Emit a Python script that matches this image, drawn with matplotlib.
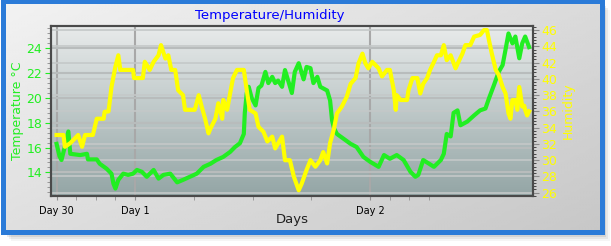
import numpy as np
import matplotlib.pyplot as plt
from matplotlib.patches import Rectangle
from matplotlib.ticker import FixedLocator, MultipleLocator

# hours relative to the start of Day 1
hours_t = [-8.0, -7.7, -7.5, -7.15, -6.8, -6.6, -5.6, -4.9, -4.8, -3.9, -3.6, -2.9,
           -2.4, -2.2, -2.0, -1.7, -1.2, -0.7, -0.2, 0.2, 0.7, 1.2, 1.9, 2.4, 2.9,
           3.6, 4.3, 4.9, 5.6, 6.3, 7.0, 7.7, 8.3, 9.0, 9.7, 10.2, 10.7, 11.1, 11.2,
           11.4, 11.6, 11.9, 12.3, 12.6, 12.9, 13.3, 13.6, 14.0, 14.3, 14.6, 15.0,
           15.3, 15.7, 16.0, 16.3, 16.7, 17.2, 17.5, 17.9, 18.2, 18.6, 18.9, 19.6,
           19.9, 20.1, 20.3, 20.6, 21.3, 22.0, 22.6, 23.3, 24.0, 24.85, 25.4, 26.0,
           26.7, 27.4, 28.1, 28.6, 28.9, 29.4, 30.0, 30.5, 31.2, 31.5, 31.8, 32.2,
           32.5, 32.9, 33.2, 33.9, 34.6, 35.2, 35.75, 36.1, 36.6, 37.1, 37.5, 37.8,
           38.1, 38.5, 38.8, 39.2, 39.5, 39.8, 40.2]
temperature = [16.3, 15.3, 15.0, 16.1, 17.3, 15.5, 15.4, 15.5, 15.05, 15.05, 14.7, 14.3,
               13.9, 13.1, 12.7, 13.4, 13.9, 13.8, 13.9, 14.2, 14.05, 13.65, 14.2, 13.5, 13.8,
               13.9, 13.2, 13.4, 13.65, 13.9, 14.45, 14.7, 15.0, 15.25, 15.65, 16.05, 16.35, 17.1, 18.8,
               20.4, 20.9, 20.0, 19.4, 20.8, 21.0, 22.1, 21.2, 21.7, 21.2, 21.4, 20.9,
               22.25, 21.2, 20.4, 22.1, 22.8, 21.5, 22.5, 22.4, 21.2, 21.7, 20.9, 20.6,
               19.8, 18.2, 17.55, 17.1, 16.7, 16.3, 16.05, 15.25, 14.85, 14.45, 15.4, 15.1,
               15.4, 15.0, 14.05, 13.65, 13.8, 15.0, 14.7, 14.45, 15.0, 15.5, 17.1, 16.9,
               18.8, 19.0, 17.8, 18.1, 18.6, 19.0, 19.15, 19.95, 21.0, 22.1, 22.65, 23.9,
               25.2, 24.4, 24.95, 23.2, 24.4, 24.95, 24.1]

hours_h = [-8.0, -7.3, -7.15, -6.6, -5.8, -5.4, -5.1, -4.3, -3.9, -3.2, -3.1, -2.7,
           -2.4, -2.0, -1.7, -1.5, -0.2, -0.1, 0.8, 1.0, 1.5, 1.9, 2.4, 2.65, 3.1,
           3.4, 3.7, 4.1, 4.4, 4.9, 5.1, 6.1, 6.5, 6.8, 7.15, 7.5, 7.7, 8.2, 8.5,
           8.9, 9.0, 9.4, 9.7, 10.0, 10.4, 11.1, 11.4, 11.7, 12.3, 12.6, 13.1, 13.5,
           14.0, 14.3, 15.0, 15.3, 15.8, 16.2, 16.7, 17.0, 17.5, 17.9, 18.4, 18.9,
           19.2, 19.6, 19.9, 20.3, 20.6, 21.1, 21.6, 22.0, 22.5, 22.8, 23.2, 23.5,
           23.8, 24.2, 24.85, 25.2, 25.7, 26.0, 26.4, 26.6, 26.7, 27.1, 27.75, 27.9,
           28.3, 28.8, 29.1, 29.4, 29.8, 30.1, 30.5, 30.8, 31.2, 31.5, 31.8, 32.2,
           32.7, 33.0, 33.4, 33.7, 34.2, 34.6, 35.2, 35.6, 35.9, 36.1, 36.4, 36.8,
           37.1, 37.5, 37.8, 38.1, 38.3, 38.5, 38.8, 39.0, 39.2, 39.5, 39.7, 39.8,
           40.0, 40.2]
humidity = [33.1, 33.1, 31.65, 32.1, 33.1, 31.65, 33.1, 33.1, 35.1, 35.1, 35.95, 36.0,
            39.0, 41.5, 42.9, 41.1, 41.1, 40.1, 40.1, 42.1, 41.1, 42.1, 42.9, 44.15, 42.5,
            42.9, 41.1, 41.1, 38.6, 38.0, 36.2, 36.2, 38.0, 36.6, 35.1, 33.3, 33.9, 35.1, 37.0,
            35.1, 37.4, 36.2, 38.2, 40.1, 41.1, 41.1, 38.6, 36.2, 35.75, 34.1, 33.5, 32.3,
            32.9, 31.45, 32.9, 30.0, 30.0, 28.0, 26.3, 27.1, 28.8, 30.0, 29.2, 30.0,
            31.0, 29.6, 32.1, 33.9, 35.75, 36.6, 37.8, 39.4, 40.1, 41.9, 43.1, 41.9,
            41.3, 42.1, 41.3, 40.3, 41.1, 41.1, 38.6, 36.2, 38.0, 37.4, 37.4, 38.6,
            40.1, 40.1, 38.2, 39.4, 40.1, 41.1, 42.1, 42.9, 42.9, 44.15, 42.3, 42.9,
            41.3, 42.1, 43.1, 44.15, 44.15, 45.2, 45.4, 46.0, 46.0, 44.8, 43.1, 41.1,
            40.5, 39.0, 38.2, 35.75, 35.1, 37.4, 37.4, 36.2, 39.0, 36.6, 36.7, 36.2,
            35.5, 36.0]

day_ticks = [-8, 0, 24]
day_labels = ['Day 30', 'Day 1', 'Day 2']
minor_hours = [-6, -4, -2, 6, 12, 18, 26, 28, 30]
temp_ticks = [14, 16, 18, 20, 22, 24]
hum_ticks = [26, 28, 30, 32, 34, 36, 38, 40, 42, 44, 46]

W, H = 611, 246
GREEN = '#22ee22'
YELLOW = '#ffff00'

fig = plt.figure(figsize=(W / 100, H / 100), dpi=100)

# outer panel: shadow, gradient, blue frame
bg = fig.add_axes([0, 0, 1, 1])
bg.set_xlim(0, W)
bg.set_ylim(H, 0)
bg.axis('off')
for off, a in [(8, 0.04), (6, 0.06), (4, 0.08), (2, 0.10)]:
    bg.add_patch(Rectangle((3 + off, 2 + off), 599, 231, fc='black', ec='none', alpha=a))
bg.add_patch(Rectangle((0, 0), 604, 235, fc='white', ec='none'))
gx, gy = np.meshgrid(np.linspace(0, 1, 200), np.linspace(0, 1, 100))
g = 0.95 - 0.17 * (0.55 * gx + 0.45 * gy)
bg.imshow(g, cmap='gray', vmin=0, vmax=1, extent=(2, 602, 233, 0), aspect='auto', zorder=1)
bg.add_patch(Rectangle((2.5, 0.5), 599, 231.5, fill=False, ec='#2b7bd8', lw=3.6, zorder=2))

# plot area
x0, x1, y0, y1 = 50.7, 533, 26, 196
ax = fig.add_axes([x0 / W, 1 - y1 / H, (x1 - x0) / W, (y1 - y0) / H])
ax.set_xlim(-8.6, 40.6)
ax.set_ylim(12.1, 25.8)
ax2 = ax.twinx()
ax2.set_ylim(25.6, 46.5)

top = np.array([0.91, 0.92, 0.92])
bot = np.array([0.58, 0.65, 0.65])
t = np.linspace(0, 1, 100)[:, None]
grad = (top * (1 - t) + bot * t)[:, None, :].repeat(2, axis=1)
ax.imshow(grad, extent=(-8.6, 40.6, 12.1, 25.8), aspect='auto', zorder=0)

# grid lines
for d in day_ticks:
    ax.axvline(d, color='#a8a8a8', lw=1.5, zorder=1)
for v in temp_ticks:
    ax.axhline(v, color='#b8bcbc', lw=1.5, zorder=1)
for h in hum_ticks:
    tv = 12.1 + (h - 25.6) * (25.8 - 12.1) / (46.5 - 25.6)
    ax.axhline(tv, color='#c4c8c8', lw=1.2, zorder=1)

ax.plot(hours_t, temperature, color=GREEN, lw=3, solid_joinstyle='round', zorder=3)
ax2.plot(hours_h, humidity, color=YELLOW, lw=3, solid_joinstyle='round', zorder=3)

# axes styling
for a in (ax, ax2):
    for s in a.spines.values():
        s.set_color('#4a4a4a')
        s.set_linewidth(1.5)

ax.xaxis.set_major_locator(FixedLocator(day_ticks))
ax.set_xticklabels(day_labels, fontsize=7, color='black')
ax.xaxis.set_minor_locator(FixedLocator(minor_hours))
ax.tick_params(axis='x', which='both', length=3, color='#909090', pad=4)

ax.yaxis.set_major_locator(FixedLocator(temp_ticks))
ax.yaxis.set_minor_locator(MultipleLocator(0.4))
ax.tick_params(axis='y', which='major', length=4, color=GREEN, labelcolor=GREEN, labelsize=9, pad=2)
ax.tick_params(axis='y', which='minor', length=3, color='#8a8a8a')

ax2.yaxis.set_major_locator(FixedLocator(hum_ticks))
ax2.yaxis.set_minor_locator(MultipleLocator(0.4))
ax2.tick_params(axis='y', which='major', length=4, color='#8a8a8a', labelcolor=YELLOW, labelsize=9, pad=2)
ax2.tick_params(axis='y', which='minor', length=2, color='#303030')

ax.set_ylabel('Temperature °C', color=GREEN, fontsize=9, labelpad=2)
ax2.set_ylabel('Humidity', color=YELLOW, fontsize=9, labelpad=3)
ax.set_xlabel('Days', fontsize=9.5, color='#202020', labelpad=-2)

fig.text(270 / W, 1 - 16 / H, 'Temperature/Humidity', color='#0000ff', fontsize=9.5,
         ha='center', va='center')

fig.savefig('out.png', dpi=100)
